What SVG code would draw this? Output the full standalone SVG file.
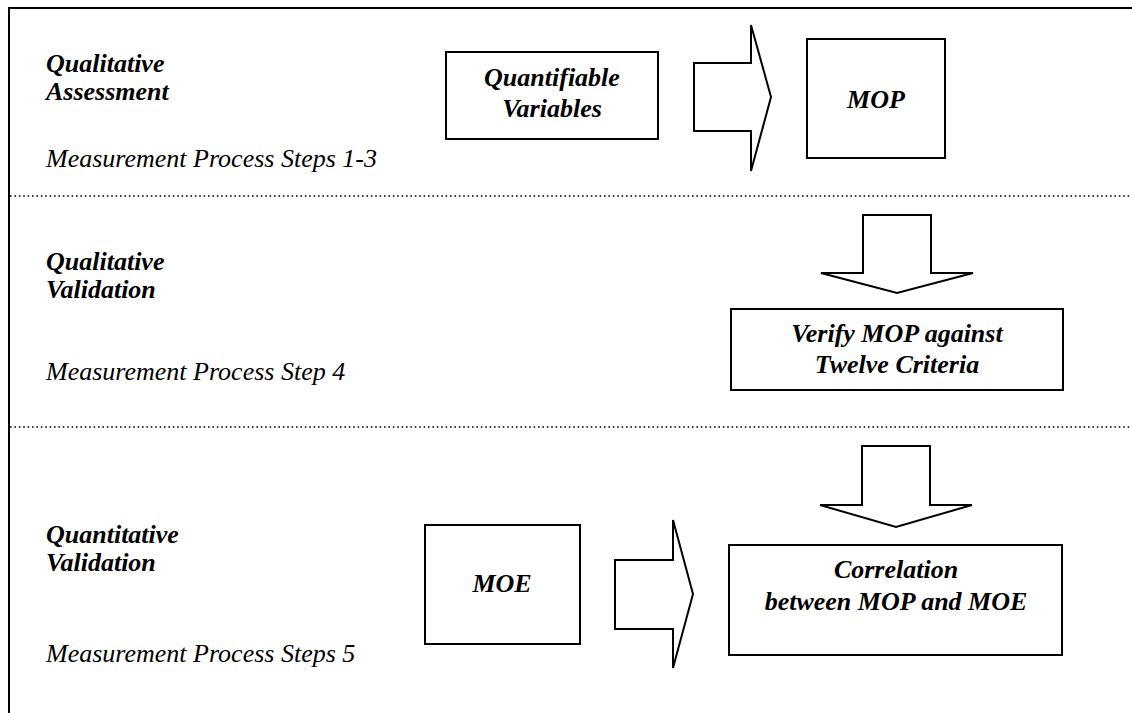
<svg xmlns="http://www.w3.org/2000/svg" width="1132" height="713" viewBox="0 0 1132 713">
<style>
.frame{stroke:#000;stroke-width:2;fill:none}
.dot{stroke:#000;stroke-width:1.6;stroke-dasharray:1.6 2.8;fill:none}
.box{fill:#fff;stroke:#000;stroke-width:2}
.arrow{fill:#fff;stroke:#000;stroke-width:2;stroke-linejoin:miter}
.lbl{font-family:"Liberation Serif","Times New Roman",serif;font-size:26px;font-style:italic;font-weight:bold;fill:#000}
.sub{font-family:"Liberation Serif","Times New Roman",serif;font-size:26px;font-style:italic;fill:#000}
.ctr{text-anchor:middle}
</style>
<rect width="1132" height="713" fill="#fff"/>
<g id="frame">
<path class="frame" d="M9,713 V8 H1132"/>
<path class="dot" d="M10,196 H1132"/>
<path class="dot" d="M10,427 H1132"/>
</g>
<g id="section1-label">
<text class="lbl" x="46" y="72">Qualitative</text>
<text class="lbl" x="46" y="100">Assessment</text>
<text class="sub" x="46" y="167">Measurement Process Steps 1-3</text>
</g>
<g id="section2-label">
<text class="lbl" x="46" y="270">Qualitative</text>
<text class="lbl" x="46" y="298">Validation</text>
<text class="sub" x="46" y="380">Measurement Process Step 4</text>
</g>
<g id="section3-label">
<text class="lbl" x="46" y="543">Quantitative</text>
<text class="lbl" x="46" y="571">Validation</text>
<text class="sub" x="46" y="662">Measurement Process Steps 5</text>
</g>
<g id="connectors">
<polygon class="arrow" points="694,63 751,63 751,25 771,97 751,171 751,131 694,131"/>
<polygon class="arrow" points="863,215 931,215 931,273 973,273 897,293 821,273 863,273"/>
<polygon class="arrow" points="862,446 930,446 930,505 972,505 896,527 820,505 862,505"/>
<polygon class="arrow" points="615,560 673,560 673,520 693,594 673,668 673,629 615,629"/>
</g>
<g id="quantifiable-variables">
<rect class="box" x="446" y="52" width="212" height="87"/>
<text class="lbl ctr" x="552" y="86">Quantifiable</text>
<text class="lbl ctr" x="552" y="117">Variables</text>
</g>
<g id="mop">
<rect class="box" x="807" y="39" width="138" height="119"/>
<text class="lbl ctr" x="876" y="108">MOP</text>
</g>
<g id="verify-mop">
<rect class="box" x="731" y="309" width="332" height="81"/>
<text class="lbl ctr" x="897" y="342">Verify MOP against</text>
<text class="lbl ctr" x="897" y="373">Twelve Criteria</text>
</g>
<g id="moe">
<rect class="box" x="425" y="525" width="155" height="119"/>
<text class="lbl ctr" x="502" y="592">MOE</text>
</g>
<g id="correlation">
<rect class="box" x="729" y="545" width="333" height="110"/>
<text class="lbl ctr" x="896" y="578">Correlation</text>
<text class="lbl ctr" x="896" y="610">between MOP and MOE</text>
</g>
</svg>
